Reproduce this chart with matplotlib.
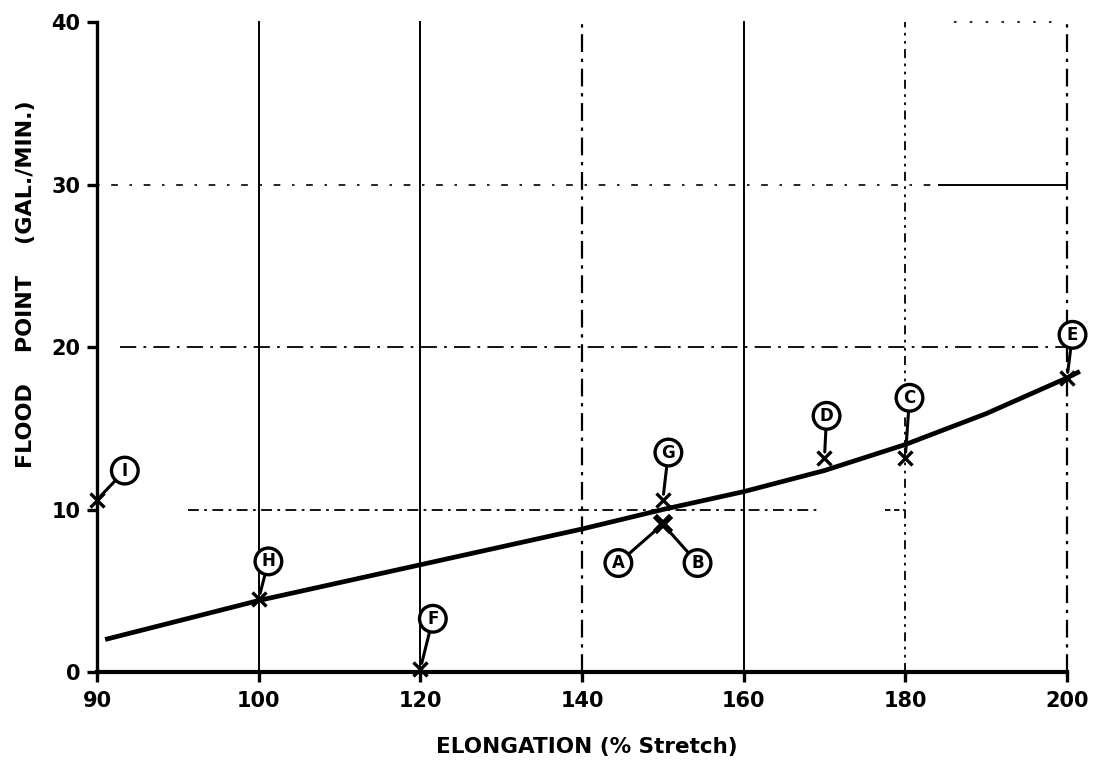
import numpy as np
import matplotlib
matplotlib.use("Agg")
import matplotlib.pyplot as plt

# Flood point measurements per sample
sample_labels = ["I", "H", "F", "G", "A", "B", "D", "C", "E"]
elongation = [90, 100, 120, 150, 150, 150, 170, 180, 200]
flood_point = [10.6, 4.5, 0.2, 10.6, 9.1, 9.1, 13.2, 13.2, 18.1]

# Faired curve through the data
curve_x = [90.5, 100, 120, 140, 150, 160, 170, 180, 190, 200, 201.6]
curve_y = [2.0, 4.4, 6.6, 8.8, 10.0, 11.1, 12.4, 14.0, 15.9, 18.1, 18.5]

x_ticks = [90, 100, 120, 140, 160, 180, 200]
x_tick_labels = ["90", "100", "120", "140", "160", "180", "200"]
y_ticks = [0, 10, 20, 30, 40]
y_tick_labels = ["0", "10", "20", "30", "40"]


# Broken x scale: the 90-100 interval is stretched to the width of 20 units
def fwd(x):
    x = np.asarray(x, dtype=float)
    return np.where(x < 100, 2 * x - 100, x)


def inv(p):
    p = np.asarray(p, dtype=float)
    return np.where(p < 100, (p + 100) / 2, p)


plt.rcParams["font.family"] = ["DejaVu Sans"]
plt.rcParams["font.weight"] = "bold"

fig = plt.figure(figsize=(10.94, 7.62), dpi=100)
ax = fig.add_axes([0.0887, 0.1181, 0.8866, 0.853])
ax.set_xscale("function", functions=(fwd, inv))
ax.set_xlim(90, 200)
ax.set_ylim(0, 40)

# Vertical rulings
dashdot = (0, (8, 3, 1.5, 3))
fine_dashdot = (0, (5, 3, 1.5, 3, 1.5, 3))
v_styles = {100: "-", 120: "-", 140: dashdot, 160: "-", 180: fine_dashdot,
            200: dashdot}
v_widths = {100: 1.4, 120: 1.4, 140: 1.6, 160: 1.4, 180: 1.3, 200: 1.6}
for xv in x_ticks[1:]:
    ax.axvline(xv, color="black", lw=v_widths[xv], ls=v_styles[xv],
               clip_on=False, zorder=1)

# Horizontal rulings (partial, dash-dot)
h_segments = [
    (30, 90, 184, (0, (1.5, 7, 4, 7)), 1.2),
    (30, 184, 200, "-", 1.4),
    (20, 91.4, 200, (0, (9, 4, 1.5, 4)), 1.3),
    (10, 95.6, 169.4, (0, (6, 3, 1.5, 3)), 1.3),
    (10, 177.5, 180, (0, (3, 2)), 1.3),
    (40, 186, 199, (0, (1.5, 8)), 1.2),
]
for yv, x0, x1, ls, lw in h_segments:
    ax.hlines(yv, x0, x1, colors="black", lw=lw, linestyles=[ls],
              clip_on=False, zorder=1)

# Faired curve
ax.plot(curve_x, curve_y, color="black", lw=3.4, solid_capstyle="butt",
        clip_on=False, zorder=3)

# Data points
for lab, xv, yv in zip(sample_labels, elongation, flood_point):
    heavy = lab in ("A", "B")
    ax.plot([xv], [yv], marker="x", ms=11 if heavy else 10,
            mew=4.0 if heavy else 2.4, color="black", ls="none",
            clip_on=False, zorder=4)

# Circled sample letters with leader lines
label_offsets = {
    "I": (20, 21), "H": (7, 27), "F": (9, 36), "G": (4, 34),
    "A": (-32, -28), "B": (25, -28), "D": (1.5, 30), "C": (3, 43),
    "E": (4, 31),
}
for lab, xv, yv in zip(sample_labels, elongation, flood_point):
    ax.annotate(
        lab, xy=(xv, yv), xytext=label_offsets[lab],
        textcoords="offset points", ha="center", va="center",
        fontsize=12, fontweight="heavy", color="black",
        bbox=dict(boxstyle="circle,pad=0.26", fc="white", ec="black", lw=2.4),
        arrowprops=dict(arrowstyle="-", lw=2.2, color="black",
                        shrinkA=0, shrinkB=4),
        annotation_clip=False, zorder=5,
    )

# Axes frame
for side in ("top", "right"):
    ax.spines[side].set_visible(False)
ax.spines["left"].set_linewidth(2.4)
ax.spines["bottom"].set_linewidth(3.0)
ax.spines["left"].set_zorder(6)
ax.spines["bottom"].set_zorder(6)

ax.set_xticks(x_ticks)
ax.set_xticklabels(x_tick_labels)
ax.set_yticks(y_ticks)
ax.set_yticklabels(y_tick_labels)
ax.xaxis.set_minor_locator(matplotlib.ticker.NullLocator())
ax.tick_params(axis="x", direction="out", length=7, width=2.4, pad=7,
               labelsize=15)
ax.tick_params(axis="y", direction="out", length=7, width=2.4, pad=5,
               labelsize=15)
for t in ax.get_xticklabels() + ax.get_yticklabels():
    t.set_fontweight("bold")

fig.text(0.5366, 0.0197, "ELONGATION (% Stretch)", ha="center", va="center",
         fontsize=15.5, fontweight="bold")
fig.text(0.024, 0.627, "FLOOD    POINT    (GAL./MIN.)", ha="center",
         va="center", rotation=90, fontsize=16, fontweight="bold")

fig.savefig("out.png", dpi=100, facecolor="white")
